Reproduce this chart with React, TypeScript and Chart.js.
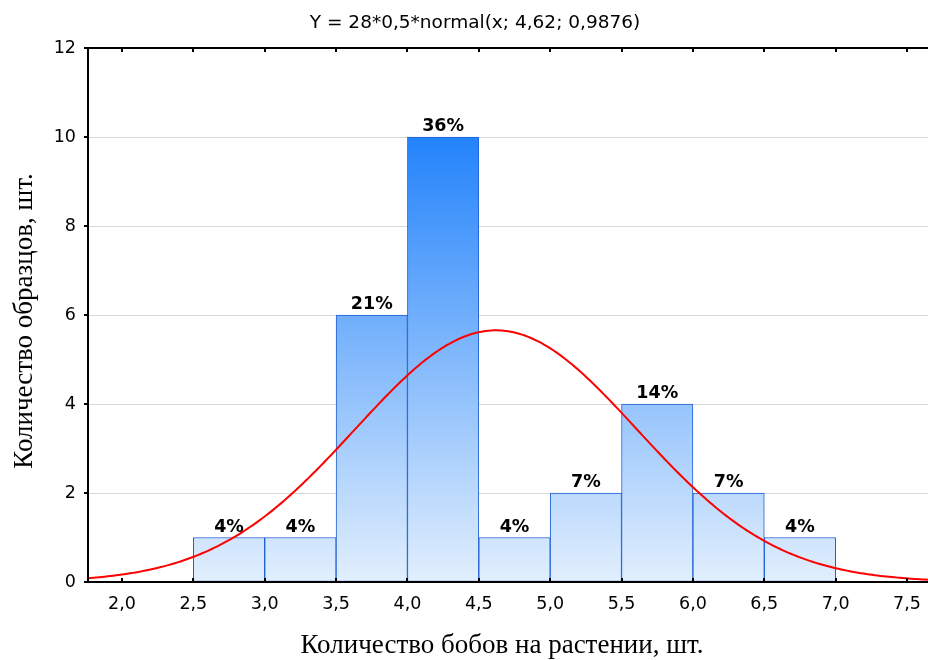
import React, { useEffect, useRef } from "react";
import { Chart, registerables } from "chart.js";

Chart.register(...registerables);

// Histogram bins (lower edges) and observed counts
const binStarts = [2.5, 3.0, 3.5, 4.0, 4.5, 5.0, 5.5, 6.0, 6.5];
const counts = [1, 1, 6, 10, 1, 2, 4, 2, 1];
const BIN_WIDTH = 0.5;

// Fitted normal curve parameters: Y = N * width * normal(x; mean; sd)
const SAMPLE_SIZE = 28;
const MEAN = 4.62;
const SD = 0.9876;

// Axis ranges and tick labels
const X_MIN = 1.762;
const X_MAX = 7.647;
const xTickValues = [2.0, 2.5, 3.0, 3.5, 4.0, 4.5, 5.0, 5.5, 6.0, 6.5, 7.0, 7.5];
const yTickValues = [0, 2, 4, 6, 8, 10, 12];

const TITLE = "Y = 28*0,5*normal(x; 4,62; 0,9876)";
const X_TITLE = "Количество бобов на растении, шт.";
const Y_TITLE = "Количество образцов, шт.";

const SANS = "'DejaVu Sans', Arial, sans-serif";
const SERIF = "'Liberation Serif', 'Times New Roman', serif";

function normalCurve(): { x: number; y: number }[] {
  const pts: { x: number; y: number }[] = [];
  const steps = 300;
  for (let i = 0; i <= steps; i++) {
    const x = X_MIN + ((X_MAX - X_MIN) * i) / steps;
    const z = (x - MEAN) / SD;
    const y = (SAMPLE_SIZE * BIN_WIDTH * Math.exp(-0.5 * z * z)) / (SD * Math.sqrt(2 * Math.PI));
    pts.push({ x, y });
  }
  return pts;
}

const fmt = (v: number) => v.toFixed(1).replace(".", ",");

// Frame, inward tick marks, percentage labels and titles
const decorPlugin = {
  id: "decor",
  afterDatasetsDraw(chart: any) {
    const { ctx, chartArea, scales } = chart;
    const { left, right, top, bottom } = chartArea;
    const xs = scales.x;
    const ys = scales.y;
    ctx.save();

    // percentage labels above bars
    const total = counts.reduce((a, b) => a + b, 0);
    const meta = chart.getDatasetMeta(0);
    ctx.fillStyle = "#000";
    ctx.font = `bold 17.5px ${SANS}`;
    ctx.textAlign = "center";
    ctx.textBaseline = "alphabetic";
    meta.data.forEach((el: any, i: number) => {
      const pct = Math.round((counts[i] / total) * 100) + "%";
      ctx.fillText(pct, el.x, el.y - 6);
    });

    // frame
    ctx.strokeStyle = "#000";
    ctx.lineWidth = 2;
    ctx.beginPath();
    ctx.moveTo(left, bottom);
    ctx.lineTo(left, top);
    ctx.lineTo(right + 2, top);
    ctx.moveTo(left - 1, bottom);
    ctx.lineTo(right + 2, bottom);
    ctx.stroke();

    // tick marks
    ctx.beginPath();
    xTickValues.forEach((v) => {
      const px = Math.round(xs.getPixelForValue(v));
      ctx.moveTo(px, bottom);
      ctx.lineTo(px, bottom - 4);
      ctx.moveTo(px, top);
      ctx.lineTo(px, top + 4);
    });
    yTickValues.forEach((v) => {
      const py = Math.round(ys.getPixelForValue(v));
      ctx.moveTo(left, py);
      ctx.lineTo(left - 4, py);
    });
    ctx.stroke();

    // titles
    ctx.fillStyle = "#000";
    ctx.font = `18.5px ${SANS}`;
    ctx.textAlign = "center";
    ctx.textBaseline = "middle";
    ctx.fillText(TITLE, 475, 23);

    ctx.font = `27px ${SERIF}`;
    ctx.fillText(X_TITLE, 502, 646);

    ctx.translate(25, 321);
    ctx.rotate(-Math.PI / 2);
    ctx.fillText(Y_TITLE, 0, 0);
    ctx.restore();
  },
};

export default function App() {
  const canvasRef = useRef<HTMLCanvasElement | null>(null);

  useEffect(() => {
    const canvas = canvasRef.current;
    if (!canvas) return;

    const barData = binStarts.map((s, i) => ({ x: s + BIN_WIDTH / 2, y: counts[i] }));

    const chart = new Chart(canvas, {
      type: "bar",
      data: {
        datasets: [
          {
            type: "bar",
            data: barData as any,
            order: 1,
            barPercentage: 1,
            categoryPercentage: 1,
            grouped: false,
            borderWidth: 1,
            borderColor: "#1f5fd6",
            borderSkipped: false,
            backgroundColor: (c: any) => {
              const area = c.chart.chartArea;
              if (!area) return "#8fc2fb";
              const g = c.chart.ctx.createLinearGradient(0, area.top, 0, area.bottom);
              g.addColorStop(0, "#0f6ff5");
              g.addColorStop(0.167, "#2383fb");
              g.addColorStop(1, "#e2effd");
              return g;
            },
          },
          {
            type: "line",
            data: normalCurve() as any,
            order: 0,
            borderColor: "#ff0000",
            borderWidth: 2,
            pointRadius: 0,
            fill: false,
            tension: 0,
          },
        ],
      },
      options: {
        animation: false,
        responsive: false,
        maintainAspectRatio: false,
        layout: { padding: { top: 48, right: 0, left: 0, bottom: 0 } },
        plugins: {
          legend: { display: false },
          tooltip: { enabled: false },
          title: { display: false },
        },
        scales: {
          x: {
            type: "linear",
            min: X_MIN,
            max: X_MAX,
            offset: false,
            grid: { display: false, drawTicks: false },
            border: { display: false },
            ticks: {
              stepSize: 0.5,
              includeBounds: false,
              autoSkip: false,
              maxRotation: 0,
              padding: 12,
              color: "#000",
              font: { family: SANS, size: 17.5 },
              callback: (v: any) => fmt(Number(v)),
            },
            afterFit: (s: any) => {
              s.height = 78;
              s.paddingLeft = 0;
              s.paddingRight = 0;
            },
          },
          y: {
            min: 0,
            max: 12,
            grid: { color: "#d9d9d9", lineWidth: 1, drawTicks: false },
            border: { display: false },
            ticks: {
              stepSize: 2,
              padding: 12,
              color: "#000",
              font: { family: SANS, size: 17.5 },
            },
            afterFit: (s: any) => {
              s.width = 88;
              s.paddingTop = 0;
              s.paddingBottom = 0;
            },
          },
        },
      } as any,
      plugins: [decorPlugin],
    });

    return () => chart.destroy();
  }, []);

  return (
    <div style={{ position: "fixed", left: 0, top: 0, width: 928, height: 660, background: "#fff" }}>
      <canvas ref={canvasRef} width={928} height={660} style={{ display: "block" }} />
    </div>
  );
}
